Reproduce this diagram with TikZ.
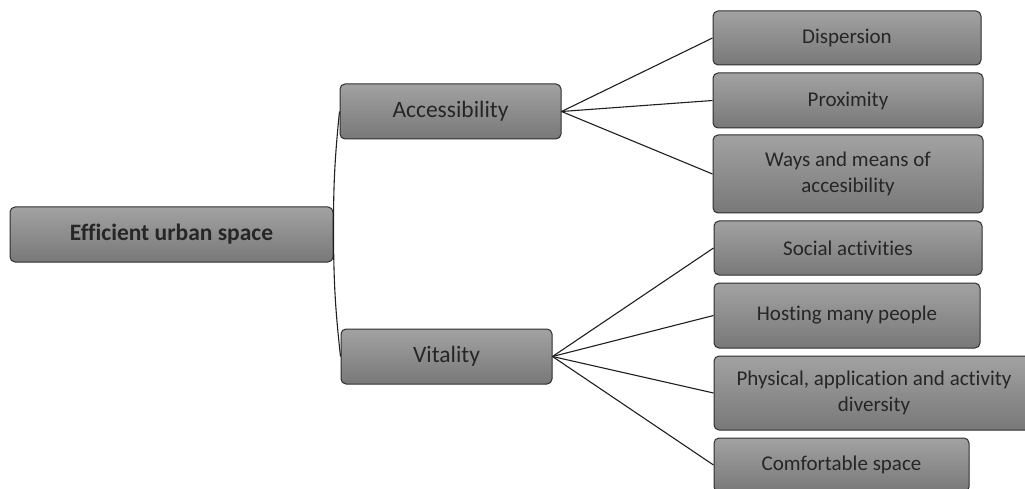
\documentclass[tikz,border=0pt]{standalone}
\usepackage{fontspec}
\setmainfont{Carlito}[RawFeature={-liga}]
\definecolor{boxtop}{HTML}{A2A2A2}
\definecolor{boxbot}{HTML}{787878}
\definecolor{boxline}{HTML}{2E2E2E}
\definecolor{textc}{HTML}{262626}
\begin{document}
\begin{tikzpicture}[x=1pt,y=-1pt,
  box/.style={draw=boxline, line width=1pt, rounded corners=5pt,
    top color=boxtop, bottom color=boxbot, text=textc, align=center,
    inner sep=0pt, font=\fontsize{21}{26}\selectfont},
  bigbox/.style={box, font=\fontsize{23.5}{28}\selectfont},
  link/.style={line width=1.1pt, draw=black!88}]
\useasboundingbox (0,0) rectangle (1025,489);
\clip (0,0) rectangle (1025,489);
% root and level 1
\node[bigbox, font=\fontsize{23.5}{28}\selectfont\bfseries, minimum width=323pt, minimum height=55pt] (root) at (171.5,234.5) {Efficient urban space};
\node[bigbox, minimum width=221pt, minimum height=55pt] (acc) at (450.5,111.5) {Accessibility};
\node[bigbox, minimum width=211pt, minimum height=55pt] (vit) at (446.5,356.5) {Vitality};
% level 2 under Accessibility
\node[box, minimum width=268pt, minimum height=54pt] (disp) at (847,38) {Dispersion};
\node[box, minimum width=270pt, minimum height=55pt] (prox) at (848,100.5) {Proximity};
\node[box, minimum width=270pt, minimum height=78pt] (ways) at (848,174) {Ways and means of\\accesibility};
% level 2 under Vitality
\node[box, minimum width=268pt, minimum height=54pt] (soc) at (848,248) {Social activities};
\node[box, minimum width=266pt, minimum height=65pt] (host) at (847,315.5) {Hosting many people};
\node[box, minimum width=320pt, minimum height=74pt] (phys) at (874,393) {Physical, application and activity\\diversity};
\node[box, minimum width=255pt, minimum height=54pt] (comf) at (841.5,465) {Comfortable space};
% connectors
\draw[link] (root.east) to[bend left=3] (acc.west);
\draw[link] (root.east) to[bend right=3] (vit.west);
\foreach \c in {disp,prox,ways} \draw[link] (acc.east) -- (\c.west);
\foreach \c in {soc,host,phys,comf} \draw[link] (vit.east) -- (\c.west);
\end{tikzpicture}
\end{document}
